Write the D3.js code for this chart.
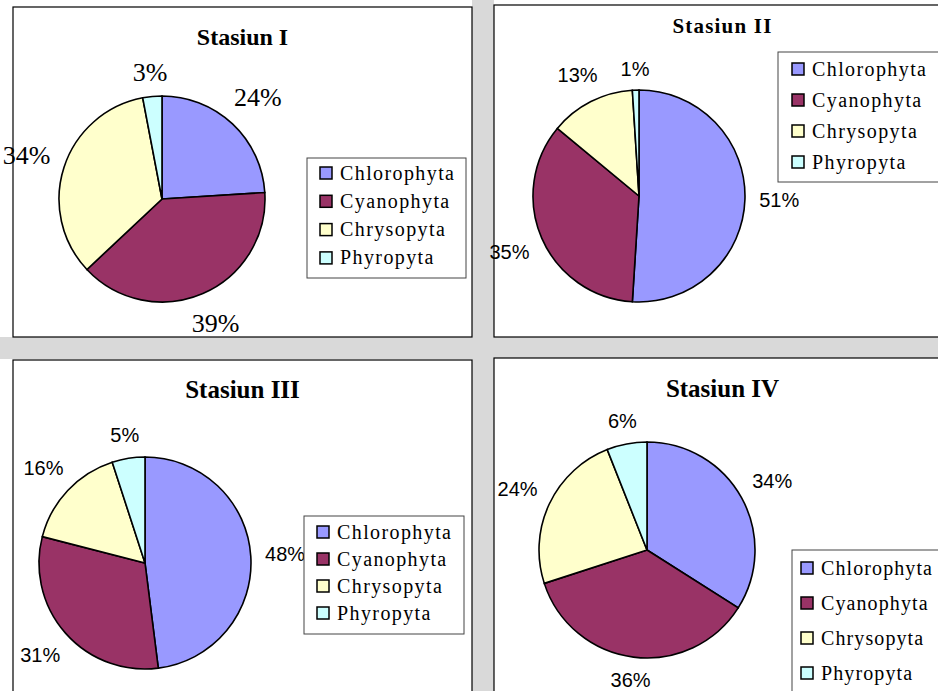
<!DOCTYPE html>
<meta charset="utf-8">
<style>
  body { margin: 0; background: #fff; }
  svg { display: block; }
  .panel { fill: #fff; stroke: #000; stroke-width: 1.2; }
  .slice { stroke: #000; stroke-width: 1.6; }
  .legend rect.box { fill: #fff; stroke: #444; stroke-width: 1; }
  .legend rect.key { stroke: #000; stroke-width: 1.5; }
  .legend text { font-family: 'Liberation Serif', serif; font-size: 20px; }
  .title { font-family: 'Liberation Serif', serif; font-weight: bold; text-anchor: middle; }
</style>
<body>
</body>
<script src="https://cdn.jsdelivr.net/npm/d3@7/dist/d3.min.js"></script>
<script>
  const groups = ['Chlorophyta', 'Cyanophyta', 'Chrysopyta', 'Phyropyta'];
  const colors = ['#9999ff', '#993366', '#ffffcc', '#ccffff'];
  const stations = ['Stasiun I', 'Stasiun II', 'Stasiun III', 'Stasiun IV'];
  const valuesI = [24, 39, 34, 3];
  const valuesII = [51, 35, 13, 1];
  const valuesIII = [48, 31, 16, 5];
  const valuesIV = [34, 36, 24, 6];
  const allValues = [valuesI, valuesII, valuesIII, valuesIV];

  const w = 938, h = 691;

  // layout of each panel
  const layout = [
    {px: 13, py: 7, pw: 459, ph: 330, cx: 162, cy: 199, r: 103, ty: 45, tsize: 24, tspace: 0,
     lx: 307, ly: 158, lw: 159, lh: 120, row0: 173, step: 28.3, kx: 13, ls: 1.4,
     lfont: "'Liberation Serif', serif", lsize: 26},
    {px: 494, py: 5, pw: 457, ph: 332, cx: 639, cy: 196, r: 106, ty: 33, tsize: 21, tspace: 1.2,
     lx: 778, ly: 52, lw: 170, lh: 130, row0: 69, step: 31, kx: 14, ls: 1.4,
     lfont: "'Liberation Sans', sans-serif", lsize: 20},
    {px: 13, py: 360, pw: 459, ph: 360, cx: 145, cy: 563, r: 106, ty: 398, tsize: 25, tspace: 0,
     lx: 304, ly: 516, lw: 160, lh: 118, row0: 532, step: 27, kx: 13, ls: 1.4,
     lfont: "'Liberation Sans', sans-serif", lsize: 20},
    {px: 494, py: 358, pw: 457, ph: 360, cx: 647, cy: 550, r: 108, ty: 397, tsize: 25, tspace: 0,
     lx: 792, ly: 550, lw: 160, lh: 160, row0: 568, step: 35, kx: 9, ls: 1.1,
     lfont: "'Liberation Sans', sans-serif", lsize: 20}
  ];

  const svg = d3.select('body').append('svg')
    .attr('width', w)
    .attr('height', h);

  // grey gaps between the panels
  svg.append('rect').attr('x', 472).attr('y', 0).attr('width', 22).attr('height', h).attr('fill', '#d9d9d9');
  svg.append('rect').attr('x', 0).attr('y', 337).attr('width', w).attr('height', 22).attr('fill', '#d9d9d9');

  const pie = d3.pie().sort(null).value(d => d);

  allValues.forEach((vals, i) => {
    const L = layout[i];
    const g = svg.append('g');

    g.append('rect').attr('class', 'panel')
      .attr('x', L.px).attr('y', L.py)
      .attr('width', L.pw).attr('height', L.ph);

    g.append('text').attr('class', 'title')
      .attr('x', L.px + L.pw / 2).attr('y', L.ty)
      .style('font-size', L.tsize + 'px')
      .style('letter-spacing', L.tspace + 'px')
      .text(stations[i]);

    const arc = d3.arc().innerRadius(0).outerRadius(L.r);
    const arcs = pie(vals);
    const pg = g.append('g').attr('transform', `translate(${L.cx}, ${L.cy})`);

    pg.selectAll('path')
      .data(arcs)
      .join('path')
      .attr('class', 'slice')
      .attr('d', arc)
      .attr('fill', (d, j) => colors[j]);

    // percentage labels, pushed outward so the text box clears the pie
    const labels = pg.selectAll('text')
      .data(arcs)
      .join('text')
      .style('font-family', L.lfont)
      .style('font-size', L.lsize + 'px')
      .attr('text-anchor', 'middle')
      .text(d => d.value + '%');

    labels.each(function(d) {
      const tw = this.getComputedTextLength();
      const th = L.lsize * 0.7;
      const a = (d.startAngle + d.endAngle) / 2;
      const s = Math.sin(a), c = -Math.cos(a);
      const dist = L.r + 14 + Math.abs(s) * tw / 2 + Math.abs(c) * th / 2;
      d3.select(this)
        .attr('x', s * dist)
        .attr('y', c * dist + th / 2);
    });

    // legend
    const lg = g.append('g').attr('class', 'legend');
    lg.append('rect').attr('class', 'box')
      .attr('x', L.lx).attr('y', L.ly)
      .attr('width', L.lw).attr('height', L.lh);

    const rows = lg.selectAll('g.row')
      .data(groups)
      .join('g')
      .attr('class', 'row')
      .attr('transform', (d, j) => `translate(${L.lx + L.kx}, ${L.row0 + j * L.step})`);

    rows.append('rect').attr('class', 'key')
      .attr('x', 0).attr('y', -6)
      .attr('width', 12).attr('height', 12)
      .attr('fill', (d, j) => colors[j]);

    rows.append('text')
      .attr('x', 20).attr('y', 6.5)
      .style('letter-spacing', L.ls + 'px')
      .text(d => d);
  });
</script>
